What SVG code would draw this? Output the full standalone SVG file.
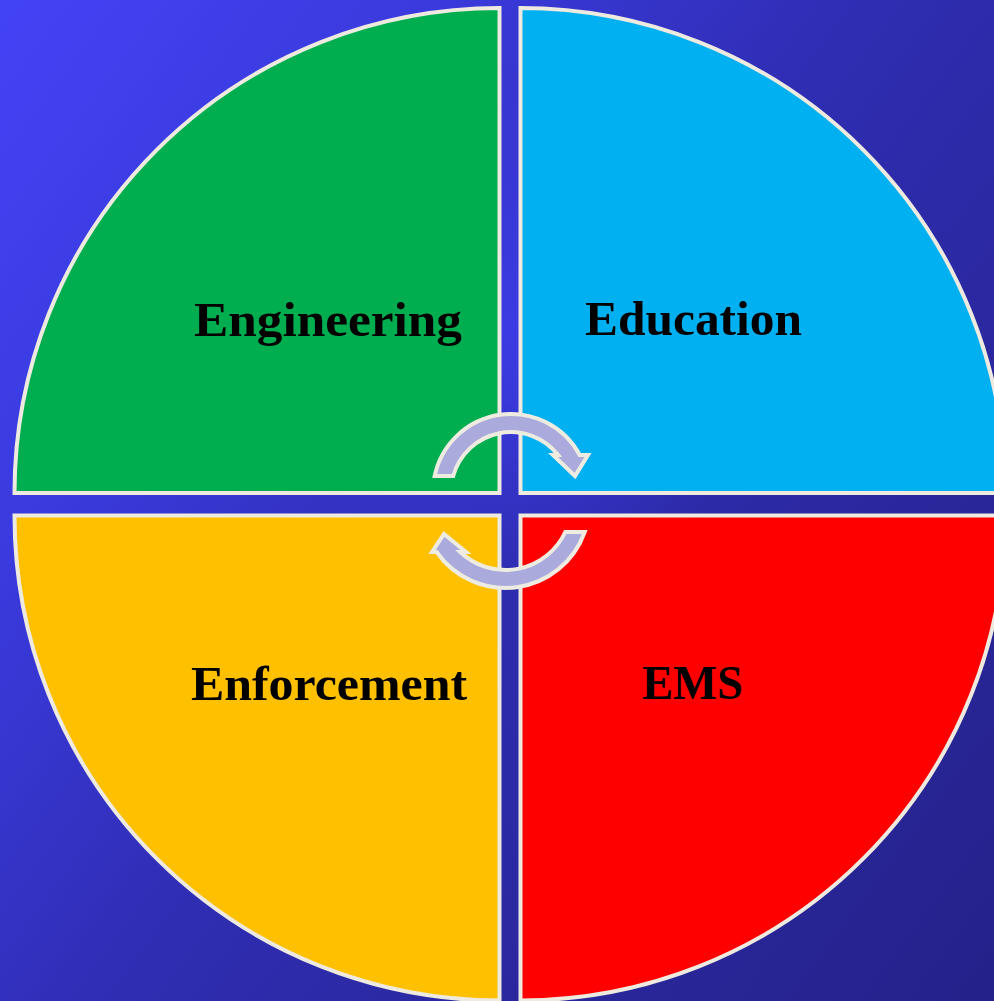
<svg xmlns="http://www.w3.org/2000/svg" width="994" height="1001" viewBox="0 0 994 1001">
  <defs>
    <linearGradient id="bg" gradientUnits="userSpaceOnUse" x1="0" y1="0" x2="1116" y2="837">
      <stop offset="0" stop-color="#4343F6"/>
      <stop offset="0.25" stop-color="#3A3ADD"/>
      <stop offset="0.5" stop-color="#2F2DB2"/>
      <stop offset="0.75" stop-color="#2A279C"/>
      <stop offset="1" stop-color="#25218A"/>
    </linearGradient>
    <radialGradient id="glow" gradientUnits="userSpaceOnUse" cx="510" cy="330" r="260">
      <stop offset="0" stop-color="#3E3EEE" stop-opacity="0.8"/>
      <stop offset="1" stop-color="#3E3EEE" stop-opacity="0"/>
    </radialGradient>
    <style>
      .q { stroke: #EEEAE0; stroke-width: 4; stroke-linejoin: miter; }
      .lbl { font-family: "Liberation Serif", "DejaVu Serif", serif; font-weight: bold; font-size: 48px; fill: #000000; }
      .arr { fill: #AAAADC; stroke: #EEEBE1; stroke-width: 4; stroke-linejoin: miter; }
    </style>
  </defs>
  <rect x="0" y="0" width="994" height="1001" fill="url(#bg)"/>
  <rect x="0" y="0" width="994" height="1001" fill="url(#glow)"/>

  <g id="engineering">
    <path class="q" fill="#00AE50" d="M 499.5 493 L 14.5 493 A 485 485 0 0 1 499.5 8 Z"/>
    <text class="lbl" x="194" y="336" textLength="268" lengthAdjust="spacingAndGlyphs">Engineering</text>
  </g>
  <g id="education">
    <path class="q" fill="#00B0F0" d="M 520.5 493 L 520.5 8 A 485 485 0 0 1 1005.5 493 Z"/>
    <text class="lbl" x="585" y="335" textLength="217" lengthAdjust="spacingAndGlyphs">Education</text>
  </g>
  <g id="ems">
    <path class="q" fill="#FF0000" d="M 520.5 515.5 L 1005.5 515.5 A 485 485 0 0 1 520.5 1000.5 Z"/>
    <text class="lbl" x="642" y="699" textLength="101" lengthAdjust="spacingAndGlyphs">EMS</text>
  </g>
  <g id="enforcement">
    <path class="q" fill="#FFC000" d="M 499.5 515.5 L 499.5 1000.5 A 485 485 0 0 1 14.5 515.5 Z"/>
    <text class="lbl" x="191" y="700" textLength="276" lengthAdjust="spacingAndGlyphs">Enforcement</text>
  </g>

  <g id="connectors">
    <path class="arr" d="M 434.7 476 A 78 78 0 0 1 579.7 455 L 588 455 L 575 476 L 553 455 L 558.2 455 A 60 60 0 0 0 453.2 476 Z"/>
    <path class="arr" d="M 584.7 532 A 84 84 0 0 1 436.6 552 L 432 552 L 444 534 L 466 552 L 460.2 552 A 66 66 0 0 0 565.3 532 Z"/>
  </g>
</svg>
